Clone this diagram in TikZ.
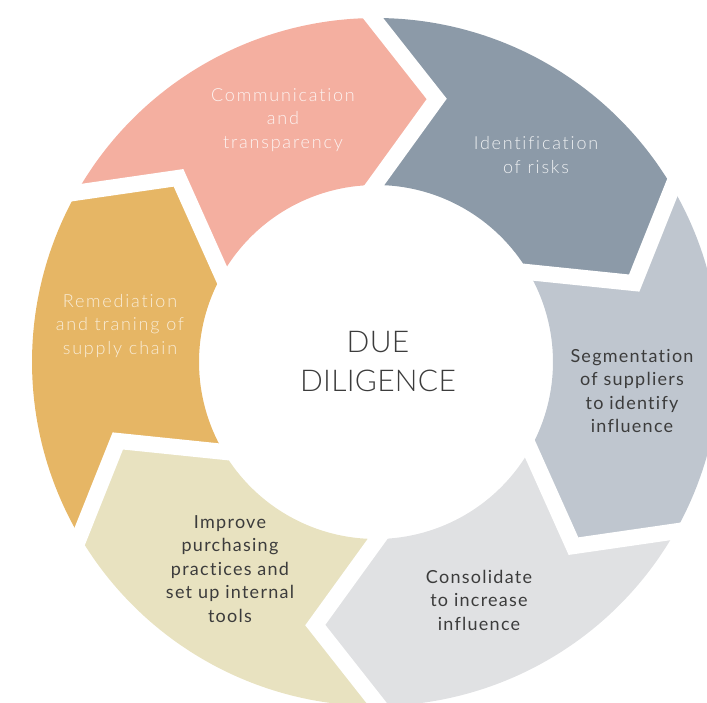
\documentclass[tikz,border=0pt]{standalone}
\usepackage{fontspec}
\setmainfont{Lato}[UprightFont=* Light,Ligatures=CommonOff]
\newfontfamily\regfont{Lato}[Ligatures=CommonOff]
\definecolor{comm}{HTML}{F4AFA0}
\definecolor{ident}{HTML}{8C9AA8}
\definecolor{segm}{HTML}{BFC6CF}
\definecolor{cons}{HTML}{E0E1E3}
\definecolor{impr}{HTML}{E8E2C0}
\definecolor{reme}{HTML}{E6B665}
\definecolor{darktxt}{HTML}{3C3C3C}
\tikzstyle{gap}=[draw=white,line width=16pt,line cap=rect,line join=miter]
\tikzstyle{lbl}=[align=center,font=\fontsize{18}{23.5}\selectfont\addfontfeature{LetterSpace=10}]
\tikzstyle{lbllight}=[lbl,text=white]
\tikzstyle{lbldark}=[align=center,text=darktxt,font=\regfont\fontsize{18}{23.5}\selectfont\addfontfeature{LetterSpace=7}]

\begin{document}
\begin{tikzpicture}[x=1pt,y=1pt]
\useasboundingbox (-376,-340) rectangle (331,362);
\clip (-376,-340) rectangle (331,362);
% ring segments, each from its ccw boundary \a to \a-60
\foreach \a/\c in {150.5/comm,90.5/ident,30.5/segm,-29.5/cons,-89.5/impr,-149.5/reme}
  \fill[\c] (\a:344pt) arc[start angle=\a,end angle=\a-60,radius=344pt]
    -- ({\a-73.5}:270pt) -- ({\a-60}:177pt)
    arc[start angle=\a-60,end angle=\a,radius=177pt]
    -- ({\a-13.5}:270pt) -- cycle;
\foreach \a in {150.5,90.5,30.5,-29.5,-89.5,-149.5}
  \draw[gap] (\a:344pt) -- ({\a-13.5}:270pt) -- (\a:177pt);

\node[lbllight,text=white!85!comm] (c) at (-93,242) {Communication\\and\\transparency};
\node[lbllight,text=white!85!ident] (i) at (160,207) {Identification\\of risks};
\node[lbldark] (s) at (256,-29) {Segmentation\\of suppliers\\to identify\\influence};
\node[lbldark] (o) at (103,-238) {Consolidate\\to increase\\influence};
\node[lbldark] (p) at (-146,-207) {Improve\\purchasing\\practices and\\set up internal\\tools};
\node[lbllight,text=white!75!reme] (r) at (-256,36) {Remediation\\and traning of\\supply chain};
\node[align=center,text=darktxt,font=\fontsize{30}{39}\selectfont\addfontfeature{LetterSpace=1}] (d) at (2,0) {DUE\\DILIGENCE};
\end{tikzpicture}
\end{document}
